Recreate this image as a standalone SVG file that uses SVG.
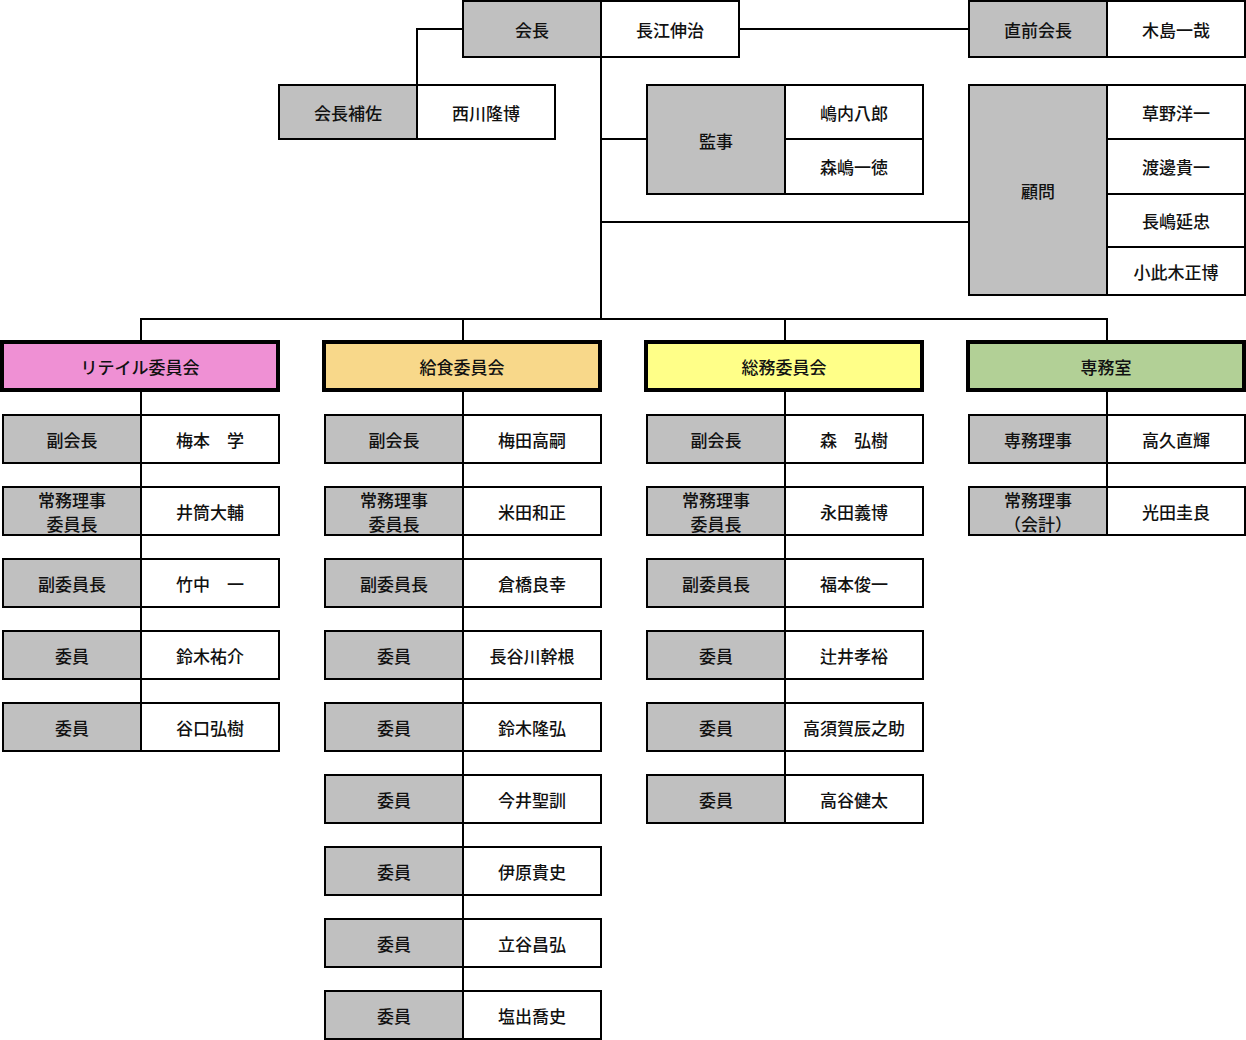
<svg xmlns="http://www.w3.org/2000/svg" width="1246" height="1040" viewBox="0 0 1246 1040">
<style>
rect{stroke:#000;stroke-width:2}
.g{fill:#c0c0c0}.w{fill:#fff}
.h{stroke-width:4}
text{font-family:"Noto Sans CJK JP","Noto Sans CJK SC",sans-serif;font-size:17px;font-weight:500;fill:#111;text-anchor:middle;dominant-baseline:central}
#conn path{stroke:#000;stroke-width:2;fill:none}
</style>
<rect width="1246" height="1040" fill="#fff" style="stroke:none"/>
<g id="conn">
<path d="M739 29H969M463 29H417V85M601 57V319M601 139H647M601 222H969M141 342V319H1107V342M463 319V342M785 319V342"/>
<path d="M141 390V703M463 390V991M785 390V775M1107 390V487"/>
</g>
<g id="kaicho"><rect class="g" x="463" y="1" width="138" height="56"/><rect class="w" x="601" y="1" width="138" height="56"/><text x="532" y="29">会長</text><text x="670" y="29">長江伸治</text></g>
<g id="chokuzen"><rect class="g" x="969" y="1" width="138" height="56"/><rect class="w" x="1107" y="1" width="138" height="56"/><text x="1038" y="29">直前会長</text><text x="1176" y="29">木島一哉</text></g>
<g id="hosa"><rect class="g" x="279" y="85" width="138" height="54"/><rect class="w" x="417" y="85" width="138" height="54"/><text x="348" y="112">会長補佐</text><text x="486" y="112">西川隆博</text></g>
<g id="kanji"><rect class="g" x="647" y="85" width="138" height="109"/><rect class="w" x="785" y="85" width="138" height="54"/><rect class="w" x="785" y="139" width="138" height="55"/><text x="716" y="140">監事</text><text x="854" y="112">嶋内八郎</text><text x="854" y="166">森嶋一徳</text></g>
<g id="komon"><rect class="g" x="969" y="85" width="138" height="210"/><rect class="w" x="1107" y="85" width="138" height="54"/><rect class="w" x="1107" y="139" width="138" height="55"/><rect class="w" x="1107" y="194" width="138" height="53"/><rect class="w" x="1107" y="247" width="138" height="48"/><text x="1038" y="190">顧問</text><text x="1176" y="112">草野洋一</text><text x="1176" y="166">渡邊貴一</text><text x="1176" y="220">長嶋延忠</text><text x="1176" y="271">小此木正博</text></g>
<g id="retail">
<rect class="h" x="2" y="342" width="276" height="48" fill="#ef90d4"/><text x="140" y="366">リテイル委員会</text>
<rect class="g" x="3" y="415" width="138" height="48"/><rect class="w" x="141" y="415" width="138" height="48"/><text x="72" y="439">副会長</text><text x="210" y="439">梅本　学</text>
<rect class="g" x="3" y="487" width="138" height="48"/><rect class="w" x="141" y="487" width="138" height="48"/><text x="72" y="499">常務理事</text><text x="72" y="523">委員長</text><text x="210" y="511">井筒大輔</text>
<rect class="g" x="3" y="559" width="138" height="48"/><rect class="w" x="141" y="559" width="138" height="48"/><text x="72" y="583">副委員長</text><text x="210" y="583">竹中　一</text>
<rect class="g" x="3" y="631" width="138" height="48"/><rect class="w" x="141" y="631" width="138" height="48"/><text x="72" y="655">委員</text><text x="210" y="655">鈴木祐介</text>
<rect class="g" x="3" y="703" width="138" height="48"/><rect class="w" x="141" y="703" width="138" height="48"/><text x="72" y="727">委員</text><text x="210" y="727">谷口弘樹</text>
</g>
<g id="kyushoku">
<rect class="h" x="324" y="342" width="276" height="48" fill="#f8d88a"/><text x="462" y="366">給食委員会</text>
<rect class="g" x="325" y="415" width="138" height="48"/><rect class="w" x="463" y="415" width="138" height="48"/><text x="394" y="439">副会長</text><text x="532" y="439">梅田高嗣</text>
<rect class="g" x="325" y="487" width="138" height="48"/><rect class="w" x="463" y="487" width="138" height="48"/><text x="394" y="499">常務理事</text><text x="394" y="523">委員長</text><text x="532" y="511">米田和正</text>
<rect class="g" x="325" y="559" width="138" height="48"/><rect class="w" x="463" y="559" width="138" height="48"/><text x="394" y="583">副委員長</text><text x="532" y="583">倉橋良幸</text>
<rect class="g" x="325" y="631" width="138" height="48"/><rect class="w" x="463" y="631" width="138" height="48"/><text x="394" y="655">委員</text><text x="532" y="655">長谷川幹根</text>
<rect class="g" x="325" y="703" width="138" height="48"/><rect class="w" x="463" y="703" width="138" height="48"/><text x="394" y="727">委員</text><text x="532" y="727">鈴木隆弘</text>
<rect class="g" x="325" y="775" width="138" height="48"/><rect class="w" x="463" y="775" width="138" height="48"/><text x="394" y="799">委員</text><text x="532" y="799">今井聖訓</text>
<rect class="g" x="325" y="847" width="138" height="48"/><rect class="w" x="463" y="847" width="138" height="48"/><text x="394" y="871">委員</text><text x="532" y="871">伊原貴史</text>
<rect class="g" x="325" y="919" width="138" height="48"/><rect class="w" x="463" y="919" width="138" height="48"/><text x="394" y="943">委員</text><text x="532" y="943">立谷昌弘</text>
<rect class="g" x="325" y="991" width="138" height="48"/><rect class="w" x="463" y="991" width="138" height="48"/><text x="394" y="1015">委員</text><text x="532" y="1015">塩出喬史</text>
</g>
<g id="somu">
<rect class="h" x="646" y="342" width="276" height="48" fill="#ffff88"/><text x="784" y="366">総務委員会</text>
<rect class="g" x="647" y="415" width="138" height="48"/><rect class="w" x="785" y="415" width="138" height="48"/><text x="716" y="439">副会長</text><text x="854" y="439">森　弘樹</text>
<rect class="g" x="647" y="487" width="138" height="48"/><rect class="w" x="785" y="487" width="138" height="48"/><text x="716" y="499">常務理事</text><text x="716" y="523">委員長</text><text x="854" y="511">永田義博</text>
<rect class="g" x="647" y="559" width="138" height="48"/><rect class="w" x="785" y="559" width="138" height="48"/><text x="716" y="583">副委員長</text><text x="854" y="583">福本俊一</text>
<rect class="g" x="647" y="631" width="138" height="48"/><rect class="w" x="785" y="631" width="138" height="48"/><text x="716" y="655">委員</text><text x="854" y="655">辻井孝裕</text>
<rect class="g" x="647" y="703" width="138" height="48"/><rect class="w" x="785" y="703" width="138" height="48"/><text x="716" y="727">委員</text><text x="854" y="727">高須賀辰之助</text>
<rect class="g" x="647" y="775" width="138" height="48"/><rect class="w" x="785" y="775" width="138" height="48"/><text x="716" y="799">委員</text><text x="854" y="799">高谷健太</text>
</g>
<g id="jimu">
<rect class="h" x="968" y="342" width="276" height="48" fill="#b2d096"/><text x="1106" y="366">専務室</text>
<rect class="g" x="969" y="415" width="138" height="48"/><rect class="w" x="1107" y="415" width="138" height="48"/><text x="1038" y="439">専務理事</text><text x="1176" y="439">高久直輝</text>
<rect class="g" x="969" y="487" width="138" height="48"/><rect class="w" x="1107" y="487" width="138" height="48"/><text x="1038" y="499">常務理事</text><text x="1038" y="523">（会計）</text><text x="1176" y="511">光田圭良</text>
</g>
</svg>
